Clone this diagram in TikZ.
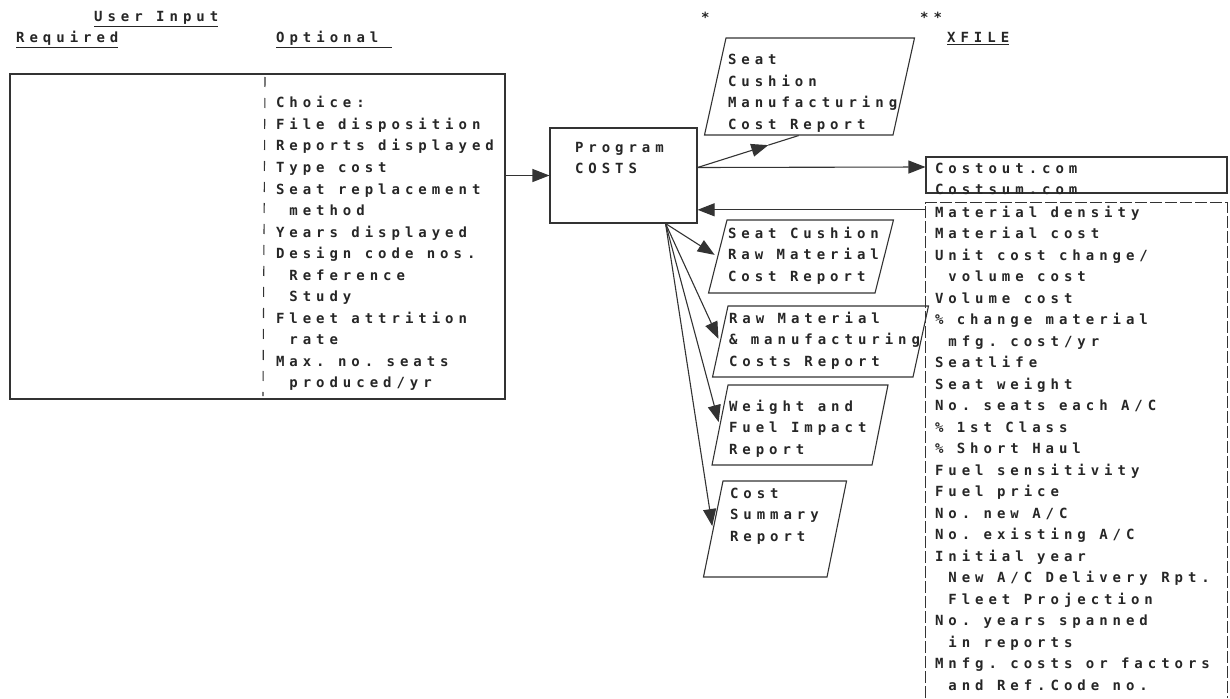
\documentclass[tikz,border=0pt]{standalone}
\usepackage{fontspec}
\newfontfamily\dotfont[LetterSpace=35.5, HyphenChar=None]{DejaVu Sans Mono}
\newcommand\dotsetup{\dotfont\bfseries\fontsize{14}{21.5}\selectfont}
\newcommand\blank{\hspace*{13.4pt}}
\usetikzlibrary{arrows.meta, positioning, calc, shapes.geometric}

\begin{document}
\begin{tikzpicture}[x=1pt, y=-1pt,
  every node/.style={font=\dotsetup, text=black!85},
  hdr/.style={anchor=base west, inner sep=0pt},
  txt/.style={anchor=text, inner sep=0pt, align=left, text width=#1},
  box/.style={rectangle, draw=black!80, line width=1.1pt, anchor=text,
              inner ysep=0pt, align=left},
  rpt/.style={trapezium, draw=black!80, line width=1.1pt,
              trapezium left angle=#1, trapezium right angle={180-#1},
              anchor=text, inner ysep=0pt, inner xsep=1pt, align=left},
  arr/.style={-{Triangle[length=17pt, width=13pt]}, line width=1.1pt, black!80},
  ln/.style={line width=1.1pt, black!80}
]
\useasboundingbox (0,0) rectangle (1230,698);

% headings
\node[hdr] (hdin)  at (94,22)  {\underline{User\blank Input}};
\node[hdr] (hdreq) at (16,43)  {\underline{Required}};
\node[hdr] (hdopt) at (276,43) {\underline{Optional\blank}};
\node[hdr] (star1) at (701,23) {*};
\node[hdr] (star2) at (920,23) {**};
\node[hdr] (hdx)   at (947,43) {\underline{XFILE}};

% user input
\node[draw=black!80, line width=1.1pt, minimum width=495pt, minimum height=325pt,
      inner sep=0pt] (input) at (257.5,236.5) {};
\draw[ln, dash pattern=on 10pt off 11pt] (265,77) -- (263,396);
\node[txt=230pt] (optlist) at (276,108)
  {Choice:\\\mbox{File\blank disposition}\\\mbox{Reports\blank displayed}\\
   \mbox{Type\blank cost}\\\mbox{Seat\blank replacement}\\\blank method\\
   \mbox{Years\blank displayed}\\\mbox{Design\blank code\blank nos.}\\
   \blank Reference\\\blank Study\\\mbox{Fleet\blank attrition}\\\blank rate\\
   \mbox{Max.\blank no.\blank seats}\\\blank produced/yr};

% program
\node[box, inner xsep=25pt, text width=97pt, text height=24pt, text depth=71pt]
  (prog) at (575,152) {Program\\COSTS};

% reports
\node[rpt=77.5, inner xsep=2pt, text width=163pt, text height=27pt, text depth=70pt]
  (rep1) at (728,65) {Seat\\Cushion\\Manufacturing\\\mbox{Cost\blank Report}};
\node[rpt=75.8, text width=146pt, text height=18pt, text depth=55pt]
  (rep2) at (728,238)
  {\mbox{Seat\blank Cushion}\\\mbox{Raw\blank Material}\\\mbox{Cost\blank Report}};
\node[rpt=77.7, text width=183pt, text height=17pt, text depth=54pt]
  (rep3) at (729,323)
  {\mbox{Raw\blank Material}\\\mbox{\&\blank manufacturing}\\\mbox{Costs\blank Report}};
\node[rpt=78.7, text width=142pt, text height=26pt, text depth=54pt]
  (rep4) at (729,411) {\mbox{Weight\blank and}\\\mbox{Fuel\blank Impact}\\Report};
\node[rpt=78.5, inner xsep=7pt, text width=90pt, text height=17pt, text depth=79pt]
  (rep5) at (730,498) {Cost\\Summary\\Report};

% xfile
\node[box, inner xsep=9pt, text width=283pt, text height=16pt, text depth=20pt]
  (xout) at (935,173) {Costout.com\\Costsum.com};
\node[txt=283pt, inner xsep=9pt, text height=14pt, text depth=481pt]
  (xin) at (935,217)
  {\mbox{Material\blank density}\\\mbox{Material\blank cost}\\
   \mbox{Unit\blank cost\blank change/}\\\mbox{\blank volume\blank cost}\\
   \mbox{Volume\blank cost}\\\mbox{\%\blank change\blank material}\\
   \mbox{\blank mfg.\blank cost/yr}\\Seatlife\\\mbox{Seat\blank weight}\\
   \mbox{No.\blank seats\blank each\blank A/C}\\\mbox{\%\blank 1st\blank Class}\\
   \mbox{\%\blank Short\blank Haul}\\\mbox{Fuel\blank sensitivity}\\
   \mbox{Fuel\blank price}\\\mbox{No.\blank new\blank A/C}\\
   \mbox{No.\blank existing\blank A/C}\\\mbox{Initial\blank year}\\
   \mbox{\blank New\blank A/C\blank Delivery\blank Rpt.}\\
   \mbox{\blank Fleet\blank Projection}\\\mbox{No.\blank years\blank spanned}\\
   \mbox{\blank in\blank reports}\\\mbox{Mnfg.\blank costs\blank or\blank factors}\\
   \mbox{\blank and\blank Ref.Code\blank no.}};
\draw[ln, line width=0.8pt, dash pattern=on 12pt off 3pt]
  (xin.south west) -- (xin.north west) -- (xin.north east) -- (xin.south east);

% connectors
\draw[arr] (input.east |- prog.west) -- (prog.west);
\draw[arr] ([yshift=8pt]prog.east) -- ([yshift=8pt]xout.west);
\draw[arr] ([yshift=-7pt]xin.north west) -- ([yshift=-7pt]xin.north west -| prog.east);
\coordinate (r1tip) at ($([yshift=8pt]prog.east)!0.7!(rep1.bottom side)$);
\draw[arr] ([yshift=8pt]prog.east) -- (r1tip);
\draw[ln] (r1tip) -- (rep1.bottom side);
\coordinate (fan) at ([xshift=-32pt]prog.south east);
\foreach \r in {rep2, rep3, rep4, rep5}
  \draw[arr, shorten >=3pt] (fan) -- (\r.left side);
\end{tikzpicture}
\end{document}
